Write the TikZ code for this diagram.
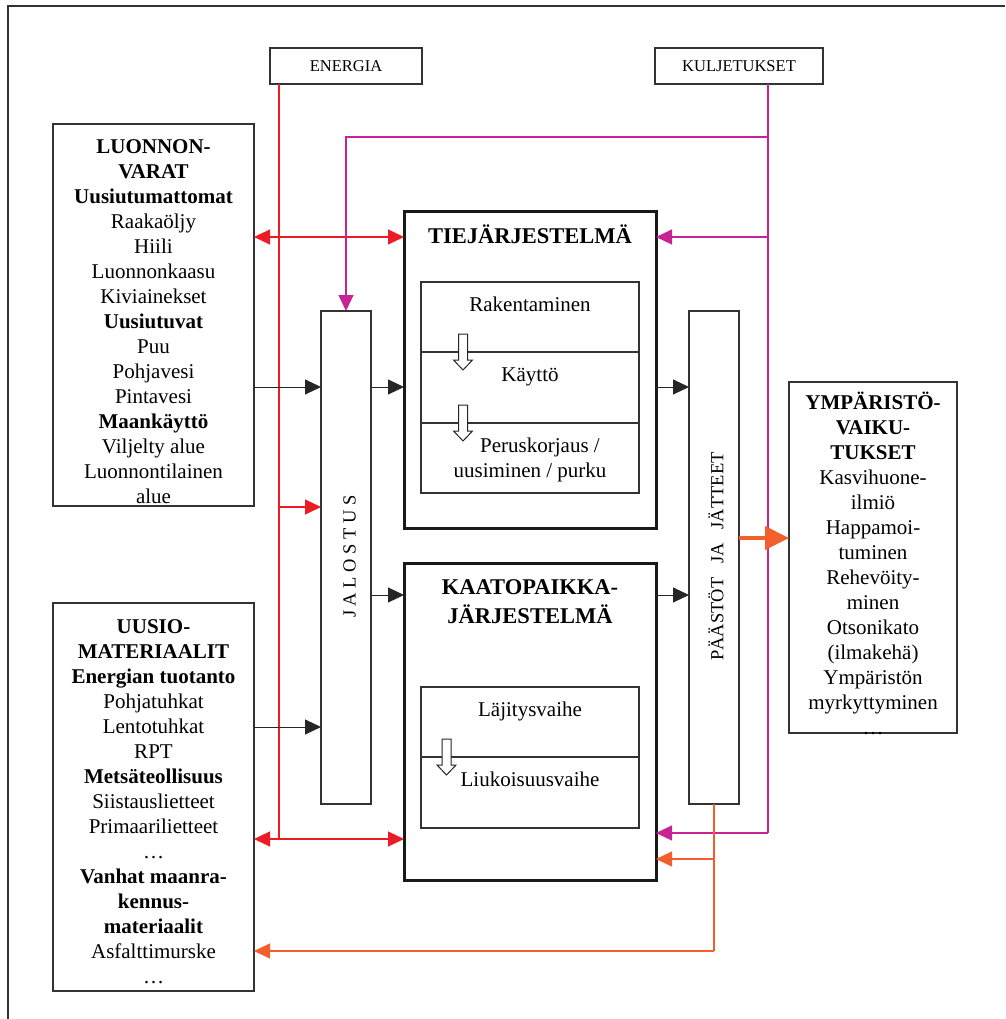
\documentclass[tikz,border=0pt]{standalone}
\usepackage{fontspec}
\setmainfont{Liberation Serif}
\usetikzlibrary{arrows.meta}
\definecolor{energyred}{RGB}{237,28,36}
\definecolor{transmag}{RGB}{200,35,150}
\definecolor{wasteorange}{RGB}{242,95,45}

\begin{document}
\begin{tikzpicture}[x=1pt,y=-1pt,
    >={Triangle[length=16pt,width=15pt]},
    box/.style={draw=black!80,line width=1.3pt,inner sep=0pt,outer sep=0pt},
    thickbox/.style={draw=black!90,line width=3pt,inner sep=0pt,outer sep=0pt},
    txt/.style={font=\fontsize{21}{25}\selectfont,align=center,inner sep=0pt},
    smalltxt/.style={font=\fontsize{16.5}{20}\selectfont},
    title/.style={font=\bfseries\fontsize{22.5}{29}\selectfont,align=center,inner sep=0pt},
    sidetxt/.style={font=\fontsize{18.5}{22}\selectfont,rotate=90,inner sep=0pt},
    blk/.style={draw=black!85,line width=1pt,->},
    redln/.style={draw=energyred,line width=1.2pt},
    magln/.style={draw=transmag,line width=1.2pt},
    orln/.style={draw=wasteorange,line width=1.2pt},
    hollow/.style={draw=black!85,line width=1pt,fill=white}]
  \useasboundingbox (0,0) rectangle (1005,1019);
  % outer frame
  \draw[black!80,line width=1.3pt] (8,1019) -- (8,6) -- (1005,6);

  % boxes
  \node[box,minimum width=152,minimum height=36,smalltxt] (energia) at (346,66) {ENERGIA};
  \node[box,minimum width=168,minimum height=36,smalltxt] (kuljetus) at (739,66) {KULJETUKSET};
  \node[box,minimum width=201,minimum height=382] (luonnon) at (153.5,315) {};
  \node[box,minimum width=201,minimum height=388] (uusio) at (153.5,797) {};
  \node[box,minimum width=50,minimum height=493] (jalostus) at (346,557.5) {};
  \node[box,minimum width=50,minimum height=493] (paastot) at (714,557.5) {};
  \node[box,minimum width=168,minimum height=351] (ymparisto) at (873,557.5) {};
  \node[thickbox,minimum width=252,minimum height=317] (tie) at (530,369.5) {};
  \node[thickbox,minimum width=252,minimum height=317] (kaato) at (530,721.5) {};
  \node[box,minimum width=218,minimum height=211] (tievaiheet) at (530,387.5) {};
  \node[box,minimum width=218,minimum height=141] (kaatovaiheet) at (530,757.5) {};
  \foreach \dy in {352,423}
    \draw[black!80,line width=1.3pt] (421,\dy) -- (639,\dy);
  \draw[black!80,line width=1.3pt] (421,757) -- (639,757);
  \foreach \hx/\hy in {463/334,463/405,446.5/739}
    \draw[hollow] (\hx-4.5,\hy) -- (\hx+4.5,\hy) -- (\hx+4.5,\hy+26) -- (\hx+9.5,\hy+26)
      -- (\hx,\hy+36) -- (\hx-9.5,\hy+26) -- (\hx-4.5,\hy+26) -- cycle;

  % texts
  \node[txt,anchor=north] (luonnontxt) at (153.5,135.5) {\strut\textbf{LUONNON-}\\\textbf{VARAT}\\
    \textbf{Uusiutumattomat}\\Raakaöljy\\Hiili\\Luonnonkaasu\\Kiviainekset\\\textbf{Uusiutuvat}\\
    Puu\\Pohjavesi\\Pintavesi\\\textbf{Maankäyttö}\\Viljelty alue\\Luonnontilainen\\alue};
  \node[txt,anchor=north] (uusiotxt) at (153.5,615.5) {\strut\textbf{UUSIO-}\\\textbf{MATERIAALIT}\\
    \textbf{Energian tuotanto}\\Pohjatuhkat\\Lentotuhkat\\RPT\\\textbf{Metsäteollisuus}\\
    Siistauslietteet\\Primaarilietteet\\…\\\textbf{Vanhat maanra-}\\\textbf{kennus-}\\
    \textbf{materiaalit}\\Asfalttimurske\\…};
  \node[txt,anchor=north] (ymparistotxt) at (873,392) {\strut\textbf{YMPÄRISTÖ-}\\\textbf{VAIKU-}\\
    \textbf{TUKSET}\\Kasvihuone-\\ilmiö\\Happamoi-\\tuminen\\Rehevöity-\\minen\\Otsonikato\\
    (ilmakehä)\\Ympäristön\\myrkyttyminen\\…};
  \node[title,anchor=base] (tietitle) at (530,243) {TIEJÄRJESTELMÄ};
  \node[title,anchor=north] (kaatotitle) at (530,573.7) {\strut KAATOPAIKKA-\\JÄRJESTELMÄ};
  \node[txt,anchor=base] (rakent) at (530,311) {Rakentaminen};
  \node[txt,anchor=base] (kaytto) at (530,381) {Käyttö};
  \node[txt,anchor=north] (perusk) at (530,434.5) {\strut\hspace*{20pt}Peruskorjaus /\\uusiminen / purku};
  \node[txt,anchor=base] (lajit) at (530,716) {Läjitysvaihe};
  \node[txt,anchor=base] (liuk) at (530,786) {Liukoisuusvaihe};
  \node[sidetxt] (jalotxt) at (349.5,556.5) {J A L O S T U S};
  \node[sidetxt] (paastotxt) at (716,556.5) {PÄÄSTÖT~~~JA~~~JÄTTEET};

  % energy
  \coordinate (ebot) at (279,839);
  \coordinate (etop) at (279,237);
  \coordinate (ejal) at (279,507);
  \draw[redln] (energia.south -| ebot) -- (ebot);
  \draw[redln,<->] (luonnon.east |- etop) -- (tie.west |- etop);
  \draw[redln,<->] (uusio.east |- ebot) -- (kaato.west |- ebot);
  \draw[redln,->] (ejal) -- (jalostus.west |- ejal);

  % transport
  \coordinate (kbot) at (768,833);
  \coordinate (ktie) at (768,237);
  \coordinate (ktop) at (768,137);
  \coordinate (kleft) at (346,137);
  \draw[magln] (kuljetus.south -| kbot) -- (kbot);
  \draw[magln,->] (kbot) -- (kaato.east |- kbot);
  \draw[magln,->] (ktie) -- (tie.east |- ktie);
  \draw[magln,->] (ktop) -- (kleft) -- (jalostus.north);

  % materials
  \coordinate (yb) at (0,387);
  \coordinate (yd) at (0,595);
  \coordinate (ye) at (0,727);
  \draw[blk] (luonnon.east |- yb) -- (jalostus.west |- yb);
  \draw[blk] (jalostus.east |- yb) -- (tie.west |- yb);
  \draw[blk] (jalostus.east |- yd) -- (kaato.west |- yd);
  \draw[blk] (uusio.east |- ye) -- (jalostus.west |- ye);
  \draw[blk] (tie.east |- yb) -- (paastot.west |- yb);
  \draw[blk] (kaato.east |- yd) -- (paastot.west |- yd);

  % wastes
  \coordinate (obot) at (714,951);
  \coordinate (omid) at (714,859);
  \coordinate (obig) at (0,538);
  \draw[orln] (paastot.south) -- (obot);
  \draw[orln,->] (obot) -- (uusio.east |- obot);
  \draw[orln,->] (omid) -- (kaato.east |- omid);
  \draw[draw=wasteorange,line width=4pt,-{Triangle[length=24pt,width=23pt]}]
    (paastot.east |- obig) -- (ymparisto.west |- obig);
\end{tikzpicture}
\end{document}
